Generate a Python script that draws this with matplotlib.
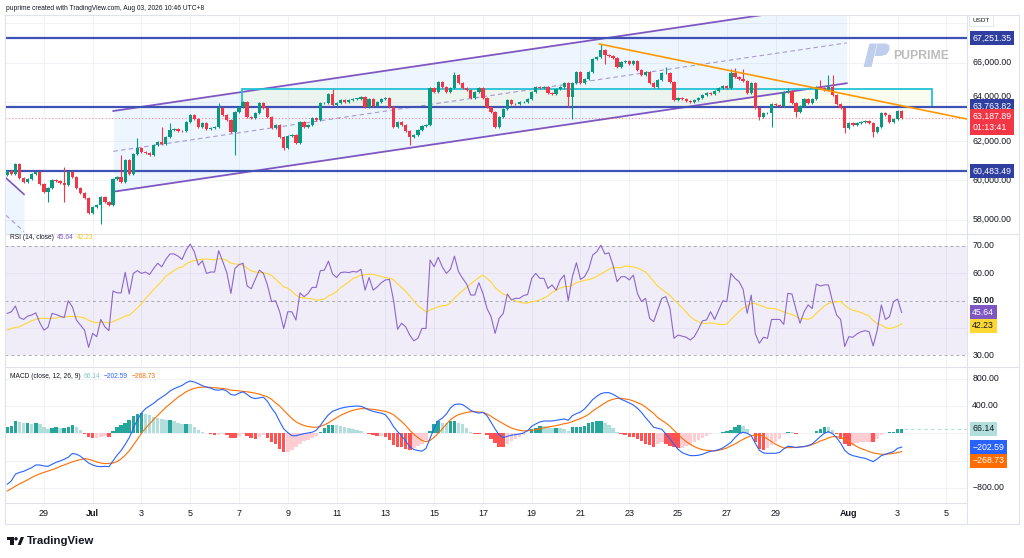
import numpy as np
import pandas as pd
import matplotlib
matplotlib.use('Agg')
import matplotlib.pyplot as plt
import matplotlib.dates as mdates
import matplotlib.transforms as mtransforms
from matplotlib.patches import Rectangle, Polygon, Circle

plt.rcParams['font.family'] = ['Liberation Sans', 'DejaVu Sans']

# --- values (4h candles) ---
start = '2026-06-27 12:00'
first_open = 60270
close = [60490, 60320, 60820, 60100, 59930, 60050, 60320, 60410, 59810, 59420,
         59590, 60020, 59970, 59850, 59760, 60440, 60190, 59590, 59370, 59080,
         58320, 58660, 58740, 59170, 58910, 58740, 60070, 60190, 59930, 61040,
         60300, 61340, 61630, 61460, 61380, 61290, 61800, 61970, 61850, 62230,
         62570, 62600, 62530, 62500, 62990, 63330, 63110, 62700, 62940, 62600,
         62670, 62740, 63670, 63330, 63080, 62480, 63500, 63760, 64010, 63250,
         63160, 63420, 63930, 63670, 63250, 62650, 62820, 62230, 61630, 62260,
         62310, 61890, 62990, 62740, 62820, 63160, 63080, 63930, 63960, 64400,
         63840, 63930, 64100, 64010, 64100, 64150, 64170, 64230, 63720, 64170,
         63790, 64010, 64150, 64180, 63720, 62740, 62990, 62820, 62530, 62230,
         62310, 62570, 62770, 62820, 64690, 64520, 65030, 64780, 64520, 64690,
         65370, 64950, 64690, 64610, 64180, 64520, 64690, 64180, 63720, 63500,
         62740, 63250, 63620, 64100, 63890, 63880, 63980, 64010, 64130, 64520,
         64780, 64690, 64740, 64440, 64400, 64640, 64780, 64980, 64230, 64950,
         65540, 64950, 65150, 65510, 66170, 66310, 66650, 66390, 66340, 66220,
         65800, 66020, 66070, 65930, 66070, 65630, 65370, 65540, 64950, 64780,
         65120, 65460, 65490, 65030, 64100, 64180, 64130, 64060, 64000, 64100,
         64220, 64350, 64470, 64400, 64570, 64690, 64810, 64690, 65460, 65250,
         65150, 65080, 64470, 64980, 63670, 63250, 63420, 63450, 63890, 63840,
         63790, 64520, 64570, 63960, 63500, 63790, 64130, 63930, 64130, 64780,
         64690, 64610, 64780, 64350, 63890, 63670, 62650, 62910, 62820, 62940,
         62990, 63040, 62940, 62480, 62740, 63420, 63330, 62990, 63110, 63550,
         63187.89]
# long wicks (bar index -> price)
wick_hi = {14: 60700, 28: 61290, 32: 62140, 38: 62740, 40: 62910, 52: 63960, 80: 64640,
           110: 65540, 146: 66954, 162: 65800, 178: 65660, 179: 65710, 181: 65660,
           192: 64690, 200: 65120, 202: 65370, 203: 65370}
wick_lo = {10: 58880, 14: 58910, 23: 57770, 56: 61290, 68: 61550, 99: 61800, 120: 62650,
           138: 63720, 139: 63110, 147: 65950, 185: 63080, 188: 62700, 194: 63250,
           206: 62430, 213: 62230}

rsi = [45.3, 45.9, 48.0, 43.8, 43.1, 44.3, 44.7, 45.5, 41.9, 39.2,
       40.2, 45.3, 44.9, 44.3, 43.8, 49.9, 47.7, 42.9, 41.0, 39.2,
       32.9, 38.0, 36.8, 43.1, 40.4, 39.0, 53.5, 52.8, 52.8, 60.3,
       52.4, 59.9, 60.9, 59.9, 60.4, 59.5, 61.7, 63.6, 62.3, 65.0,
       67.0, 67.0, 66.2, 65.0, 68.4, 70.6, 67.8, 62.9, 64.5, 59.9,
       60.4, 60.4, 68.2, 64.2, 60.2, 52.6, 61.7, 63.1, 63.6, 55.3,
       54.3, 57.7, 61.1, 59.9, 55.6, 49.6, 49.9, 45.9, 39.8, 45.9,
       45.9, 42.9, 52.8, 51.4, 52.6, 54.8, 54.8, 60.9, 61.1, 64.4,
       59.7, 58.4, 60.2, 60.4, 60.2, 60.6, 60.4, 61.4, 53.8, 58.4,
       53.8, 55.0, 56.5, 57.5, 57.7, 50.2, 39.5, 41.7, 40.4, 37.4,
       35.3, 36.2, 39.8, 39.8, 64.8, 62.3, 65.8, 62.3, 59.9, 61.4,
       66.2, 60.5, 58.1, 56.0,
       52.0, 52.0, 56.5, 52.6, 47.1, 44.1, 38.0, 43.5, 45.3, 52.4,
       50.2, 50.8, 50.8, 51.8, 52.2, 58.1, 59.9, 58.1, 58.1, 54.4,
       55.7, 53.8, 57.5, 59.3, 49.9, 58.7, 63.8, 57.7, 58.7, 61.4,
       66.6, 67.8, 70.2, 67.0, 67.4, 62.9, 56.9, 58.7, 58.7, 57.5,
       59.3, 52.6, 49.6, 50.8, 43.5, 42.3, 46.5, 50.8, 51.4, 47.1,
       36.2, 37.4, 37.0, 36.6, 35.6, 36.8, 39.5, 42.6, 42.9, 45.9,
       43.1, 46.5, 49.9, 49.6, 59.9, 58.1, 56.9, 54.1, 45.3, 52.0,
       37.8, 34.4, 36.6, 36.2, 43.1, 43.1, 43.1, 41.3, 52.6, 52.4,
       46.8, 41.7, 45.9, 48.4, 47.1, 56.0, 55.3, 55.7, 55.7, 49.6,
       44.7, 43.1, 33.2, 36.8, 36.6, 37.8, 38.6, 39.0, 38.6, 33.4,
       39.2, 48.4, 43.1, 44.1, 49.6, 50.5, 45.64]
# RSI-based MA before the 14-bar window is full
rsi_ma_head = [39.2, 39.8, 40.2, 40.4, 41.2, 41.9, 42.6, 43.1, 43.5, 43.5, 43.5, 43.5, 43.6]

macd = [-746, -697, -598, -573, -558, -529, -504, -464, -464, -479,
        -484, -454, -425, -405, -380, -351, -296, -306, -336, -385,
        -435, -464, -484, -489, -484, -489, -405, -321, -252, -163,
        -64, 74, 198, 296, 361, 400, 440, 489, 529, 568,
        618, 652, 677, 701, 741, 766, 751, 726, 697, 677,
        662, 637, 632, 642, 618, 568, 558, 588, 608, 568,
        524, 509, 519, 529, 469, 371, 291, 173, 64, 10,
        -35, -35, -20, -5, 5, 15, 44, 114, 198, 272,
        321, 346, 366, 380, 390, 395, 400, 395, 371, 341,
        321, 306, 296, 272, 198, 99, 25, -35, -114, -198,
        -237, -252, -262, -222, -74, 74, 183, 222, 282, 371,
        420, 430, 420, 380, 336, 311, 296,
        307, 259, 161, 63, -24, -63, -44, -29, -20, -10,
        5, 39, 102, 137, 166, 180, 180, 180, 190, 200,
        210, 190, 259, 288, 312, 356, 424, 493, 541, 580,
        595, 595, 571, 537, 498, 473, 444, 415, 366, 307,
        229, 161, 88, 73, 59, -10, -83, -161, -234, -283,
        -307, -327, -327, -322, -307, -283, -263, -254, -239, -215,
        -176, -132, -63, -5, 15, 0, -34, -146, -249, -288,
        -293, -293, -293, -278, -229, -190, -195, -210, -200, -195,
        -180, -156, -102, -49, 0, 24, -5, -63, -146, -249,
        -302, -327, -341, -356, -366, -390, -415, -376, -327, -307,
        -288, -268, -220, -202.59]
signal = [-845, -810, -776, -741, -711, -682, -647, -618, -593, -573,
          -553, -534, -514, -484, -464, -440, -420, -400, -385, -371,
          -380, -400, -420, -435, -445, -440, -435, -415, -375, -321,
          -257, -173, -89, 0, 74, 138, 203, 262, 321, 380,
          430, 479, 529, 568, 608, 637, 657, 672, 677, 677,
          672, 667, 662, 657, 647, 632, 627, 622, 613, 608,
          598, 588, 573, 553, 534, 499, 445, 400, 336, 277,
          217, 168, 138, 114, 99, 89, 89, 99, 124, 153,
          193, 227, 262, 291, 316, 336, 351, 361, 361, 356,
          351, 341, 331, 321, 301, 272, 222, 173, 114, 44,
          -15, -64, -104, -124, -104, -59, 0, 64, 133, 198,
          242, 272, 291, 306, 316, 316, 311,
          307, 283, 249, 210, 176, 141, 107, 78, 59, 44,
          34, 39, 44, 54, 63, 78, 93, 102, 112, 127,
          141, 151, 171, 195, 215, 244, 278, 327, 366, 405,
          444, 478, 498, 512, 512, 502, 493, 473, 449, 424,
          385, 337, 293, 229, 190, 151, 102, 44, -15, -73,
          -122, -161, -195, -220, -239, -249, -254, -259, -249, -234,
          -215, -185, -156, -122, -88, -59, -34, -24, -24, -44,
          -83, -122, -161, -190, -215, -210, -210, -205, -200, -195,
          -185, -166, -141, -112, -93, -68, -49, -49, -63, -88,
          -117, -161, -195, -224, -244, -268, -288, -298, -307, -307,
          -302, -293, -283, -268.73]

levels = [67251.35, 63763.82, 60483.49]
last_price = 63187.89

# drawings on the chart (time, price anchors)
channel_t = ['2026-07-01 20:20', '2026-07-31 22:00']
channel_lower = [59420, 64950]
channel_width = 4116
old_channel_t = ['2026-06-27 10:45', '2026-06-28 04:25']
old_channel_upper = [60120, 59290]
old_channel_width = 3800
zone_t = ['2026-07-07 03:00', '2026-08-04 09:30']
zone_price = [63763.82, 64660]
trend_t = ['2026-07-21 18:30', '2026-08-05 20:00']
trend_price = [66954, 63128]

tick_dates = ['2026-06-29', '2026-07-01', '2026-07-03', '2026-07-05', '2026-07-07', '2026-07-09',
              '2026-07-11', '2026-07-13', '2026-07-15', '2026-07-17', '2026-07-19', '2026-07-21',
              '2026-07-23', '2026-07-25', '2026-07-27', '2026-07-29', '2026-08-01', '2026-08-03',
              '2026-08-05']
tick_labels = ['29', 'Jul', '3', '5', '7', '9', '11', '13', '15', '17', '19', '21', '23', '25',
               '27', '29', 'Aug', '3', '5']

# --- colours ---
UP, DN = '#089981', '#f23645'
GRID = '#f0f2f6'
BORDER = '#e0e3eb'
PURPLE = '#7e57c2'
LEVEL = '#3f51b5'
LEVEL_BOX = '#2f3f9f'
TXT = '#131722'


def dn(s):
    return mdates.date2num(pd.Timestamp(s).to_pydatetime())


times = pd.date_range(start, periods=len(close), freq='4h')
x = mdates.date2num(times.to_pydatetime())
c = np.array(close, float)
o = np.r_[first_open, c[:-1]]
hi = np.maximum(o, c) + 50
lo = np.minimum(o, c) - 50
for k, v in wick_hi.items():
    hi[k] = max(hi[k], v)
for k, v in wick_lo.items():
    lo[k] = min(lo[k], v)
col = np.where(c >= o, UP, DN)

rsi_a = np.array(rsi, float)
rsi_ma = pd.Series(rsi_a).rolling(14).mean().to_numpy()
rsi_ma[:len(rsi_ma_head)] = rsi_ma_head

macd_a = np.array(macd, float)
sig_a = np.array(signal, float)
hist = macd_a - sig_a
prev = np.r_[hist[0], hist[:-1]]
hcol = np.where(hist >= 0, np.where(hist >= prev, '#26a69a', '#b2dfdb'),
                np.where(hist < prev, '#ff5252', '#ffcdd2'))

x_left = dn(start) - 0.094
x_right = x_left + 39.44
tick_x = [dn(d) for d in tick_dates]

W, H = 1024, 558
fig = plt.figure(figsize=(W / 100, H / 100), dpi=100)
fig.patch.set_facecolor('white')


def pane(top, bottom):
    return fig.add_axes([5 / W, 1 - bottom / H, 962 / W, (bottom - top) / H])


ax1 = pane(15, 233.5)
ax2 = pane(234.5, 366)
ax3 = pane(367, 503)
for ax in (ax1, ax2, ax3):
    ax.set_xlim(x_left, x_right)
    ax.axis('off')
    for d in tick_x:
        ax.axvline(d, color=GRID, lw=0.7, zorder=0)
ax1.set_ylim(57290, 68430)
ax2.set_ylim(26.1, 74.1)
ax3.set_ylim(-1021, 971)

# ---------- price pane ----------
for p in range(58000, 70000, 2000):
    ax1.axhline(p, color=GRID, lw=0.7, zorder=0)

# old descending channel at the far left
ot = [dn(t) for t in old_channel_t]
ou = np.array(old_channel_upper, float)
ax1.fill_between(ot, ou - old_channel_width, ou, color='#2196f3', alpha=0.077, lw=0, zorder=1)
ax1.plot(ot, ou, color=PURPLE, lw=1.2, zorder=2)
ax1.plot(ot, ou - old_channel_width / 2, color=PURPLE, lw=0.8, alpha=0.6, dashes=(4, 3), zorder=2)

# rising channel
ct = [dn(t) for t in channel_t]
cl = np.array(channel_lower, float)
ax1.fill_between(ct, cl, cl + channel_width, color='#2196f3', alpha=0.077, lw=0, zorder=1)
ax1.plot(ct, cl, color=PURPLE, lw=1.3, zorder=2)
ax1.plot(ct, cl + channel_width, color=PURPLE, lw=1.3, zorder=2)
ax1.plot(ct, cl + channel_width / 2, color=PURPLE, lw=0.8, alpha=0.6, dashes=(4, 3), zorder=2)

# zone rectangle
zt = [dn(t) for t in zone_t]
ax1.add_patch(Rectangle((zt[0], zone_price[0]), zt[1] - zt[0], zone_price[1] - zone_price[0],
                        fc='#e6ee9c', alpha=0.16, ec='none', zorder=1))
ax1.add_patch(Rectangle((zt[0], zone_price[0]), zt[1] - zt[0], zone_price[1] - zone_price[0],
                        fc='none', ec='#22c3d6', lw=1.3, zorder=2))

for lv in levels:
    ax1.axhline(lv, color=LEVEL, lw=1.6, zorder=2)
ax1.axhline(last_price, color=DN, lw=0.8, alpha=0.6, dashes=(1, 2), zorder=2)

# downtrend line
tt = [dn(t) for t in trend_t]
ax1.plot(tt, trend_price, color='#ff9800', lw=1.2, zorder=5)

# candles
ax1.vlines(x, lo, hi, colors=col, lw=0.8, zorder=3)
ax1.bar(x, np.maximum(np.abs(c - o), 25), bottom=np.minimum(o, c), width=0.135,
        color=col, lw=0, zorder=4)

# ---------- RSI pane ----------
ax2.axhspan(30, 70, color=PURPLE, alpha=0.1, lw=0, zorder=0)
for lv in (40, 60):
    ax2.axhline(lv, color='#e6e1f0', lw=0.6, zorder=0)
for lv in (30, 50, 70):
    ax2.axhline(lv, color='#9598a1', lw=0.7, dashes=(3, 3), alpha=0.8, zorder=1)
ax2.plot(x, rsi_ma, color='#fdd835', lw=0.8, zorder=2)
ax2.plot(x, rsi_a, color='#8a68cc', lw=0.8, zorder=3)

# ---------- MACD pane ----------
for lv in (-800, -400, 0, 400, 800):
    ax3.axhline(lv, color=GRID, lw=0.7, zorder=0)
ax3.bar(x, hist, width=0.145, color=hcol, lw=0, zorder=1)
ax3.plot(x, sig_a, color='#ff6d00', lw=0.8, zorder=2)
ax3.plot(x, macd_a, color='#2962ff', lw=0.8, zorder=3)
ax3.plot([x[-1] + 0.1, x_right], [hist[-1], hist[-1]], color='#b2dfdb', lw=0.8,
         dashes=(3, 3), zorder=1)


# ---------- right scale labels ----------
def scale_label(ax, val, text, fg=TXT, bg=None, dy=0, bold=False, z=5):
    tr = mtransforms.blended_transform_factory(ax.transAxes, ax.transData)
    kw = {}
    if bg is not None:
        kw['bbox'] = dict(boxstyle='square,pad=0.3', fc=bg, ec='none')
    ax.annotate(text, xy=(1.0055, val), xycoords=tr, xytext=(0, dy), textcoords='offset points',
                ha='left', va='center', fontsize=6.3, color=fg,
                fontweight='bold' if bold else 'normal', annotation_clip=False, zorder=z, **kw)


for p in (66000, 62000, 60000, 58000):
    scale_label(ax1, p, f'{p:,.2f}', z=5)
# 64,000 sits mostly behind the 63,763.82 box; nudge it above the box
scale_label(ax1, 64000, '64,000.00', dy=4.2, z=5)
for lv in levels:
    scale_label(ax1, lv, f'{lv:,.2f}', fg='white', bg=LEVEL_BOX, z=6)
tr1 = mtransforms.blended_transform_factory(ax1.transAxes, ax1.transData)
ax1.annotate(f'{last_price:,.2f}\n01:13:41', xy=(1.0055, last_price), xycoords=tr1,
             xytext=(0, 4.2), textcoords='offset points', ha='left', va='top', fontsize=6.3,
             color='white', linespacing=1.35, annotation_clip=False, zorder=7,
             bbox=dict(boxstyle='square,pad=0.3', fc=DN, ec='none'))
ax1.annotate('USDT', xy=(1.0055, 68150), xycoords=tr1, ha='left', va='center', fontsize=4.6,
             color=TXT, annotation_clip=False,
             bbox=dict(boxstyle='square,pad=0.5', fc='white', ec=BORDER, lw=0.6))

for lv in (70, 60, 30):
    scale_label(ax2, lv, f'{lv:.2f}')
scale_label(ax2, 50, '50.00', bold=True)
scale_label(ax2, rsi_a[-1], f'{rsi_a[-1]:.2f}', fg='white', bg=PURPLE, z=6)
scale_label(ax2, 42.23, '42.23', fg=TXT, bg='#fdd835', dy=-3, z=6)

for lv in (800, 400):
    scale_label(ax3, lv, f'{lv:.2f}')
scale_label(ax3, -800, '\u2212800.00')
scale_label(ax3, hist[-1], f'{hist[-1]:.2f}', fg=TXT, bg='#b2dfdb', z=6)
scale_label(ax3, macd_a[-1], f'\u2212{abs(macd_a[-1]):.2f}', fg='white', bg='#2962ff', z=6)
scale_label(ax3, sig_a[-1], f'\u2212{abs(sig_a[-1]):.2f}', fg='white', bg='#ff6d00', dy=-6.5, z=7)

# time axis labels
trx = mtransforms.blended_transform_factory(ax3.transData, ax3.transAxes)
for d, lab in zip(tick_x, tick_labels):
    ax3.text(d, -11 / 136, lab, transform=trx, ha='center', va='center', fontsize=6.5,
             color=TXT, fontweight='bold' if lab in ('Jul', 'Aug') else 'normal', clip_on=False)

# ---------- overlay: frame, legends, header, logos ----------
ov = fig.add_axes([0, 0, 1, 1], zorder=20)
ov.set_xlim(0, W)
ov.set_ylim(H, 0)
ov.axis('off')
ov.patch.set_alpha(0)
for (xa, ya, xb, yb) in [(5, 15, 1019, 15), (5, 523.5, 1019, 523.5), (5, 15, 5, 523.5),
                         (1019, 15, 1019, 523.5), (967, 15, 967, 523.5),
                         (5, 234, 1019, 234), (5, 366.5, 1019, 366.5), (5, 503, 967, 503)]:
    ov.plot([xa, xb], [ya, yb], color=BORDER, lw=0.8)

ov.text(6, 8, 'puprime created with TradingView.com, Aug 03, 2026 10:46 UTC+8',
        fontsize=4.75, color=TXT, va='center', ha='left')

ov.text(10, 237.5, 'RSI (14, close)', fontsize=4.8, color=TXT, va='center')
ov.text(57, 237.5, f'{rsi_a[-1]:.2f}', fontsize=4.8, color=PURPLE, va='center')
ov.text(77, 237.5, '42.23', fontsize=4.8, color='#f5c518', va='center')
ov.text(10, 376, 'MACD (close, 12, 26, 9)', fontsize=4.8, color=TXT, va='center')
ov.text(84, 376, f'{hist[-1]:.2f}', fontsize=4.8, color='#80cbc4', va='center')
ov.text(104, 376, f'\u2212{abs(macd_a[-1]):.2f}', fontsize=4.8, color='#2962ff', va='center')
ov.text(132, 376, f'\u2212{abs(sig_a[-1]):.2f}', fontsize=4.8, color='#ff6d00', va='center')

# PUPRIME watermark
ov.add_patch(Polygon([(863.5, 67), (871.5, 67), (877, 43.5), (869.5, 43.5)],
                     closed=True, fc='#b8c9ec', ec='none', alpha=0.9))
ov.add_patch(Polygon([(877.5, 43.5), (886, 43.5), (889.5, 45.5), (889.5, 50), (886.5, 54.5),
                      (881, 56), (874.5, 56)], closed=True, fc='#b8c9ec', ec='none', alpha=0.9))
ov.text(893, 56, 'PUPRIME', fontsize=8.8, fontweight='bold', color='#bcbcbc', va='center')

# TradingView footer logo
ov.add_patch(Rectangle((6.7, 537), 6.8, 3.2, fc=TXT, ec='none'))
ov.add_patch(Rectangle((10.2, 537), 3.3, 8, fc=TXT, ec='none'))
ov.add_patch(Circle((16, 538.8), 1.7, fc=TXT, ec='none'))
ov.add_patch(Polygon([(17.6, 545), (20.8, 537), (24, 537), (20.8, 545)], closed=True,
                     fc=TXT, ec='none'))
ov.text(27, 541, 'TradingView', fontsize=8.2, fontweight='bold', color=TXT, va='center')

fig.savefig('out.png', dpi=100)
